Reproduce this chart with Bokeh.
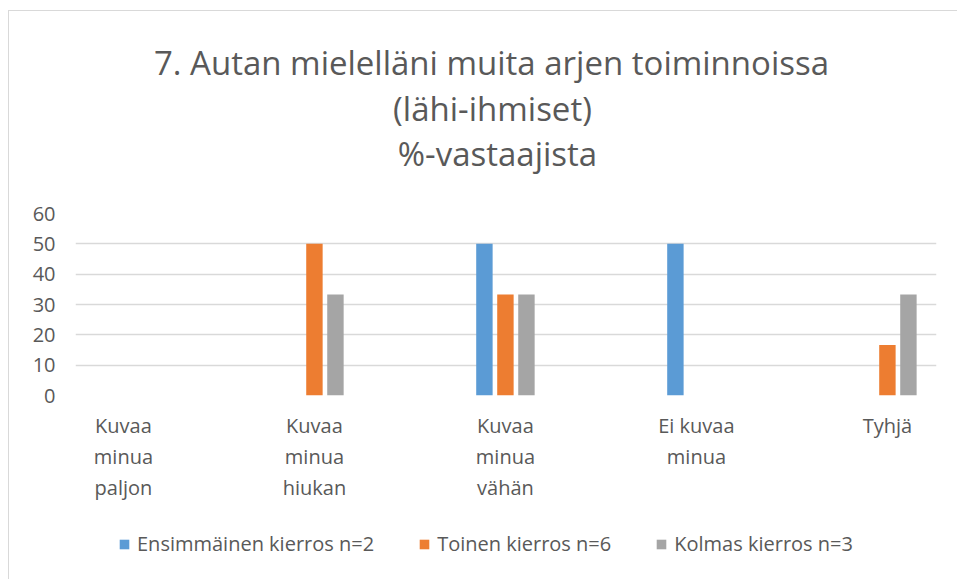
from bokeh.plotting import figure
from bokeh.layouts import column
from bokeh.models import Range1d, FixedTicker, Legend, LegendItem, ColumnDataSource, Label
from bokeh.transform import dodge
from bokeh.embed import file_html
from bokeh.resources import INLINE

# ---- data ----
categories = ["Kuvaa\nminua\npaljon", "Kuvaa\nminua\nhiukan", "Kuvaa\nminua\nvähän", "Ei kuvaa\nminua", "Tyhjä"]
series_names = ["Ensimmäinen kierros n=2", "Toinen kierros n=6", "Kolmas kierros n=3"]
ensimmainen = [0, 0, 50, 50, 0]
toinen = [0, 50, 33.33, 0, 16.67]
kolmas = [0, 33.33, 33.33, 0, 33.33]
y_ticks = [0, 10, 20, 30, 40, 50, 60]
title_lines = ["7. Autan mielelläni muita arjen toiminnoissa", "(lähi-ihmiset)", "%-vastaajista"]

colors = ["#5B9BD5", "#ED7D31", "#A5A5A5"]
TXT = "#595959"
FONT = "Open Sans"
W = 949

xpos = list(range(len(categories)))
src = ColumnDataSource(dict(x=xpos, s0=ensimmainen, s1=toinen, s2=kolmas))


def blank(height):
    # strip whose frame is aligned with the chart frame (page x 75..936)
    f = figure(width=W, height=height, output_backend="svg", toolbar_location=None,
               x_axis_location=None, y_axis_location=None, title_location=None,
               x_range=Range1d(75, 936), y_range=Range1d(0, height),
               min_border_left=0, min_border_right=0, min_border_top=0, min_border_bottom=0)
    f.outline_line_color = None
    f.grid.visible = False
    return f


# ---- title strip ----
ph = blank(182)
for line, xc, yb in zip(title_lines, [491, 492, 497], [131, 85, 40]):
    ph.add_layout(Label(x=xc, y=yb, text=line, text_align="center", text_baseline="alphabetic",
                        text_font=FONT, text_font_size="33px", text_color=TXT))

# ---- main chart ----
p = figure(frame_width=861, frame_height=182, output_backend="svg", toolbar_location=None,
           x_range=Range1d(-0.251, 4.257), y_range=Range1d(0, 60), title_location=None,
           min_border_left=66, min_border_right=22, min_border_top=20, min_border_bottom=120)
p.outline_line_color = None

bw = 0.086
step = 0.11
for i, (col, c) in enumerate(zip(["s0", "s1", "s2"], colors)):
    p.vbar(x=dodge("x", (i - 1) * step, range=p.x_range), top=col, width=bw, bottom=0,
           source=src, fill_color=c, line_color=None)

p.yaxis.ticker = FixedTicker(ticks=y_ticks)
p.yaxis.axis_line_color = None
p.yaxis.major_tick_line_color = None
p.yaxis.minor_tick_line_color = None
p.yaxis.major_label_standoff = 14
p.yaxis.major_label_text_font = FONT
p.yaxis.major_label_text_font_size = "20px"
p.yaxis.major_label_text_color = TXT

p.xaxis.ticker = FixedTicker(ticks=xpos)
p.xaxis.major_label_overrides = {i: lab for i, lab in zip(xpos, categories)}
p.xaxis.axis_line_color = None
p.xaxis.major_tick_line_color = None
p.xaxis.minor_tick_line_color = None
p.xaxis.major_label_standoff = 10
p.xaxis.major_label_text_font = FONT
p.xaxis.major_label_text_font_size = "20px"
p.xaxis.major_label_text_color = TXT
p.xaxis.major_label_text_line_height = 1.15

p.xgrid.grid_line_color = None
p.ygrid.grid_line_color = "#D9D9D9"
p.ygrid.grid_line_width = 1.4

# ---- legend strip (keys use the same series, hidden in this strip) ----
pl = blank(64)
keys = [pl.vbar(x="x", top=col, width=0.1, source=src, fill_color=c, line_color=None, visible=False)
        for col, c in zip(["s0", "s1", "s2"], colors)]
legend = Legend(items=[LegendItem(label=n, renderers=[r]) for n, r in zip(series_names, keys)],
                orientation="horizontal", location=(43, 22),
                glyph_width=12, glyph_height=12, label_standoff=7, spacing=44, padding=0, margin=0,
                label_text_font=FONT, label_text_font_size="20px", label_text_color=TXT,
                border_line_color=None, background_fill_alpha=0,
                inactive_fill_alpha=0, click_policy="none")
pl.add_layout(legend, "center")

layout = column(ph, p, pl, spacing=0)
layout.styles = {"border-left": "1px solid #D9D9D9", "border-top": "1px solid #D9D9D9",
                 "margin-left": "8px", "margin-top": "10px"}

open("out.html", "w").write(file_html(layout, INLINE))
